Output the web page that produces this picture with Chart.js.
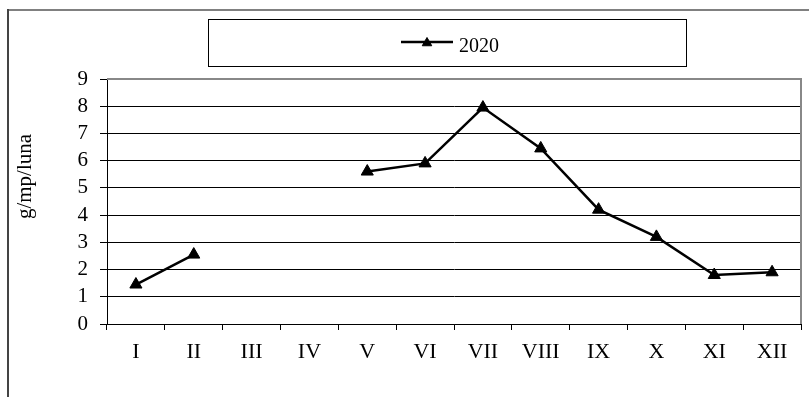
<!DOCTYPE html>
<html>
<head>
<meta charset="utf-8">
<script src="https://cdn.jsdelivr.net/npm/chart.js@4/dist/chart.umd.min.js"></script>
<style>
  html, body { margin: 0; padding: 0; background: #fff; }
  canvas { display: block; }
</style>
</head>
<body>
<canvas id="c" width="809" height="397"></canvas>
<script>
// Monthly values (g/mp/luna), months as Roman numerals; III and IV have no data
const months = ['I', 'II', 'III', 'IV', 'V', 'VI', 'VII', 'VIII', 'IX', 'X', 'XI', 'XII'];
const values2020 = [1.45, 2.55, null, null, 5.6, 5.9, 7.95, 6.45, 4.2, 3.2, 1.8, 1.9];
const yTicks = [0, 1, 2, 3, 4, 5, 6, 7, 8, 9];
const seriesLabel = '2020';
const yTitle = 'g/mp/luna';

const SERIF = '"Liberation Serif", "Times New Roman", "DejaVu Serif", serif';

// Frame, plot-area border, axis title and boxed legend
const decorations = {
  id: 'decorations',
  beforeDraw(chart) {
    const ctx = chart.ctx;
    ctx.save();
    ctx.fillStyle = '#fff';
    ctx.fillRect(0, 0, chart.width, chart.height);
    ctx.restore();
  },
  beforeDatasetsDraw(chart) {
    const ctx = chart.ctx;
    const a = chart.chartArea;
    ctx.save();
    ctx.strokeStyle = '#888';
    ctx.lineWidth = 2;
    ctx.beginPath();
    ctx.moveTo(a.left, a.top);
    ctx.lineTo(a.right, a.top);
    ctx.lineTo(a.right, a.bottom);
    ctx.stroke();
    ctx.restore();
  },
  afterDraw(chart) {
    const ctx = chart.ctx;
    ctx.save();
    // outer frame
    ctx.lineWidth = 2;
    ctx.strokeStyle = '#808080';
    ctx.beginPath();
    ctx.moveTo(8, 10);
    ctx.lineTo(chart.width, 10);
    ctx.stroke();
    ctx.strokeStyle = '#444';
    ctx.beginPath();
    ctx.moveTo(8, 9);
    ctx.lineTo(8, chart.height);
    ctx.stroke();

    // y axis title
    ctx.fillStyle = '#000';
    ctx.font = '21px ' + SERIF;
    ctx.translate(31, 176.5);
    ctx.rotate(-Math.PI / 2);
    ctx.textAlign = 'center';
    ctx.textBaseline = 'alphabetic';
    ctx.fillText(yTitle, 0, 0);
    ctx.restore();

    // legend box
    const ds = chart.data.datasets[0];
    ctx.save();
    ctx.strokeStyle = '#000';
    ctx.lineWidth = 1;
    ctx.strokeRect(208.5, 19.5, 478, 47);
    ctx.strokeStyle = ds.borderColor;
    ctx.lineWidth = ds.borderWidth;
    ctx.beginPath();
    ctx.moveTo(401, 42);
    ctx.lineTo(453, 42);
    ctx.stroke();
    ctx.fillStyle = ds.pointBackgroundColor;
    ctx.strokeStyle = ds.pointBorderColor;
    ctx.lineWidth = ds.pointBorderWidth;
    Chart.helpers.drawPoint(ctx, {
      pointStyle: ds.pointStyle,
      rotation: 0,
      radius: 5.5,
      borderWidth: ds.pointBorderWidth
    }, 427, 43);
    ctx.fillStyle = '#000';
    ctx.font = '20px ' + SERIF;
    ctx.textAlign = 'left';
    ctx.textBaseline = 'alphabetic';
    ctx.fillText(ds.label, 459, 51.5);
    ctx.restore();
  }
};

new Chart(document.getElementById('c'), {
  type: 'line',
  data: {
    labels: months,
    datasets: [{
      label: seriesLabel,
      data: values2020,
      borderColor: '#000',
      borderWidth: 2.5,
      pointStyle: 'triangle',
      pointRadius: 7,
      pointBackgroundColor: '#000',
      pointBorderColor: '#000',
      pointBorderWidth: 1,
      spanGaps: false,
      tension: 0
    }]
  },
  options: {
    responsive: false,
    animation: false,
    events: [],
    layout: { padding: { left: 0, right: 3, top: 79, bottom: 0 } },
    plugins: {
      legend: { display: false },
      tooltip: { enabled: false },
      title: { display: false }
    },
    scales: {
      x: {
        type: 'category',
        offset: true,
        grid: {
          offset: true,
          drawOnChartArea: false,
          drawTicks: true,
          tickLength: 6,
          color: '#000',
          lineWidth: 1
        },
        border: { display: true, color: '#000', width: 1 },
        ticks: {
          color: '#000',
          font: { family: SERIF, size: 22 },
          padding: 9,
          maxRotation: 0,
          autoSkip: false
        },
        afterFit(scale) { scale.height = 73; }
      },
      y: {
        min: 0,
        max: 9,
        afterBuildTicks(scale) { scale.ticks = yTicks.map(v => ({ value: v })); },
        grid: {
          color: '#000',
          lineWidth: 1,
          drawTicks: true,
          tickLength: 7
        },
        border: { display: true, color: '#000', width: 1 },
        ticks: {
          color: '#000',
          font: { family: SERIF, size: 21 },
          padding: 12,
          autoSkip: false
        },
        afterFit(scale) { scale.width = 107; }
      }
    }
  },
  plugins: [decorations]
});
</script>
</body>
</html>
